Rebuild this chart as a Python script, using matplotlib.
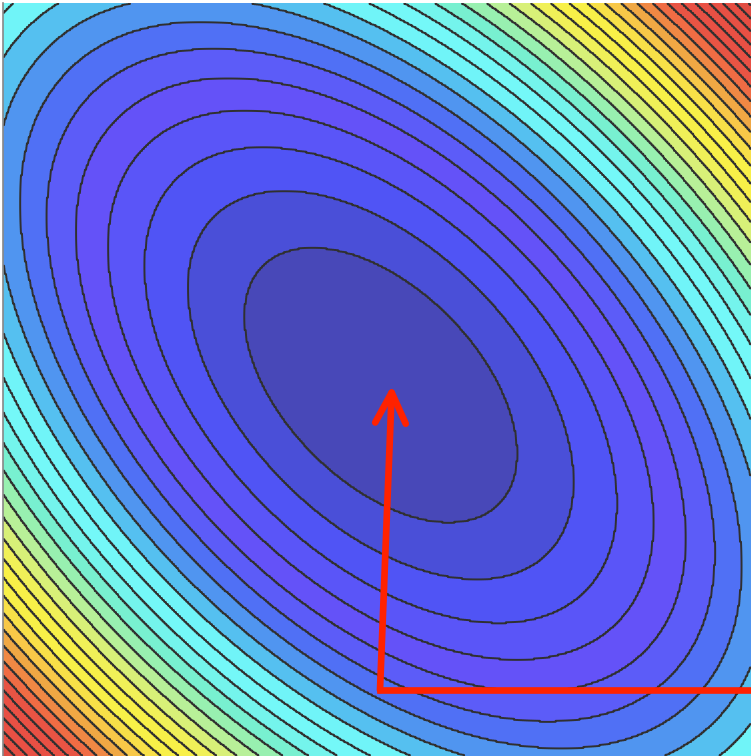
import numpy as np
import matplotlib
matplotlib.use("Agg")
import matplotlib.pyplot as plt

# quadratic bowl f = x^2 + x*y + y^2 around the minimum, filled contours
x_min, y_min = 0.02, -0.03
level_step = 0.4
n_levels = 32

ring_colors = [
    "#4848b8", "#4a4fd8", "#5054f5", "#5a55f8", "#6452f8", "#5c5cf8",
    "#5070f5", "#5095f0", "#55c0f0", "#70f4f8", "#74f8f8", "#74f4ec",
    "#78f0d0", "#98f0b0", "#b8f098", "#d8f078", "#f0f058", "#f8f048",
    "#f8f048", "#f8e048", "#f8c848", "#f0a844", "#f08844", "#f06c44",
    "#e85444", "#e85044", "#e85044", "#e85044", "#e64e42", "#e04c42",
    "#c84840", "#b04038",
]

# descent path: horizontal step, then vertical step up to the minimum
path_x = [2.0, 0.016, 0.08]
path_y = [-1.65, -1.65, -0.03]

xlim = (-2.0, 2.0)
ylim = (-2.0, 2.0)


def bowl(x, y):
    dx, dy = x - x_min, y - y_min
    return dx ** 2 + dx * dy + dy ** 2


# coarse grid, repeated so the contours come out stepped like a raster
n_coarse, rep = 375, 2
xs = np.linspace(*xlim, n_coarse)
ys = np.linspace(*ylim, n_coarse)
Xc, Yc = np.meshgrid(xs, ys)
Zc = bowl(Xc, Yc)
Z = np.repeat(np.repeat(Zc, rep, axis=0), rep, axis=1)
X, Y = np.meshgrid(np.linspace(*xlim, n_coarse * rep),
                   np.linspace(*ylim, n_coarse * rep))

levels = np.arange(n_levels + 1) * level_step

fig = plt.figure(figsize=(7.51, 7.56), dpi=100)
ax = fig.add_axes([3 / 751, 0, 748 / 751, 753 / 756])
ax.contourf(X, Y, Z, levels=levels, colors=ring_colors, antialiased=True)
ax.contour(X, Y, Z, levels=levels[1:], colors="#303030", linewidths=1.4)

ax.plot(path_x[:2], path_y[:2], color="#ff2200", lw=4.8,
        solid_joinstyle="miter", solid_capstyle="projecting", zorder=5)
ax.annotate("", xy=(path_x[2], path_y[2]), xytext=(path_x[1], path_y[1]),
            arrowprops=dict(arrowstyle="->,head_length=1.1,head_width=0.55",
                            color="#ff2200", lw=4.8, mutation_scale=20,
                            shrinkA=0, shrinkB=0, capstyle="round",
                            joinstyle="round"),
            zorder=6)

ax.set_xlim(xlim)
ax.set_ylim(ylim)
ax.set_xticks([])
ax.set_yticks([])
for side in ["top", "right", "bottom"]:
    ax.spines[side].set_visible(False)
ax.spines["left"].set_color("#888888")
ax.spines["left"].set_linewidth(1.2)

fig.savefig("out.png", dpi=100)
